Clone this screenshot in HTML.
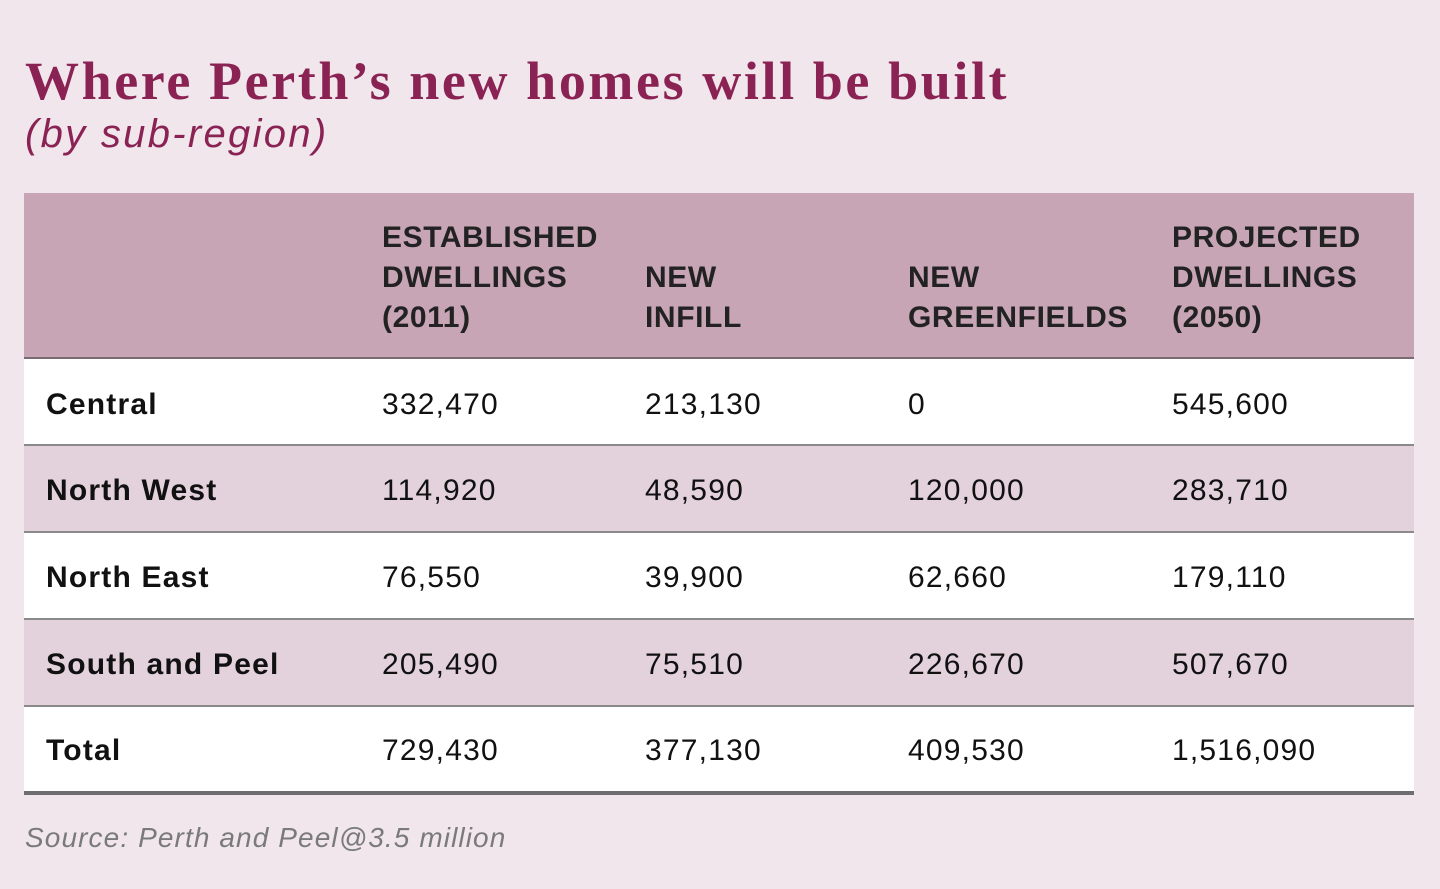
<!DOCTYPE html>
<html><head><meta charset="utf-8"><style>
body{margin:0;width:1440px;height:889px;background:#f0e6ec;position:relative;overflow:hidden;font-family:"Liberation Sans",sans-serif}
.t{position:absolute;white-space:nowrap}
#title{left:25px;top:50px;font-family:"Liberation Serif",serif;font-weight:bold;font-size:54px;color:#8a2354;letter-spacing:2.6px}
#sub{left:25px;top:112px;font-family:"Liberation Sans",sans-serif;font-style:italic;font-size:40px;color:#8a2354;letter-spacing:2.3px}
.row{position:absolute;left:24px;width:1390px}
.h{font-size:30px;font-weight:bold;color:#222;line-height:40px;letter-spacing:0.6px}
.c{font-size:30px;color:#111;letter-spacing:1.2px}
.l{font-weight:bold;font-size:30px;color:#111;letter-spacing:1.2px}
#src{left:25px;top:822px;font-style:italic;font-size:28px;color:#7a7a7a;letter-spacing:1.1px}
</style></head><body>
<div class="t" id="title">Where Perth’s new homes will be built</div>
<div class="t" id="sub">(by sub-region)</div>
<div class="row" style="top:193px;height:166px;background:#c8a5b4;border-bottom:2px solid #7a6a72;box-sizing:border-box"></div>
<div class="t h" style="left:382px;top:218px">ESTABLISHED<br>DWELLINGS<br>(2011)</div>
<div class="t h" style="left:645px;top:258px">NEW<br>INFILL</div>
<div class="t h" style="left:908px;top:258px">NEW<br>GREENFIELDS</div>
<div class="t h" style="left:1172px;top:218px">PROJECTED<br>DWELLINGS<br>(2050)</div>

<div class="row" style="top:359px;height:87px;background:#fff;border-bottom:2px solid #8a8a8a;box-sizing:border-box"></div>
<div class="row" style="top:446px;height:87px;background:#e3d2db;border-bottom:2px solid #8a8a8a;box-sizing:border-box"></div>
<div class="row" style="top:533px;height:87px;background:#fff;border-bottom:2px solid #8a8a8a;box-sizing:border-box"></div>
<div class="row" style="top:620px;height:87px;background:#e3d2db;border-bottom:2px solid #8a8a8a;box-sizing:border-box"></div>
<div class="row" style="top:707px;height:88px;background:#fff;border-bottom:4px solid #6e6e6e;box-sizing:border-box"></div>

<div class="t l" style="left:46px;top:388px">Central</div>
<div class="t c" style="left:382px;top:388px">332,470</div><div class="t c" style="left:645px;top:388px">213,130</div><div class="t c" style="left:908px;top:388px">0</div><div class="t c" style="left:1172px;top:388px">545,600</div>
<div class="t l" style="left:46px;top:474px">North West</div>
<div class="t c" style="left:382px;top:474px">114,920</div><div class="t c" style="left:645px;top:474px">48,590</div><div class="t c" style="left:908px;top:474px">120,000</div><div class="t c" style="left:1172px;top:474px">283,710</div>
<div class="t l" style="left:46px;top:561px">North East</div>
<div class="t c" style="left:382px;top:561px">76,550</div><div class="t c" style="left:645px;top:561px">39,900</div><div class="t c" style="left:908px;top:561px">62,660</div><div class="t c" style="left:1172px;top:561px">179,110</div>
<div class="t l" style="left:46px;top:648px">South and Peel</div>
<div class="t c" style="left:382px;top:648px">205,490</div><div class="t c" style="left:645px;top:648px">75,510</div><div class="t c" style="left:908px;top:648px">226,670</div><div class="t c" style="left:1172px;top:648px">507,670</div>
<div class="t l" style="left:46px;top:734px">Total</div>
<div class="t c" style="left:382px;top:734px">729,430</div><div class="t c" style="left:645px;top:734px">377,130</div><div class="t c" style="left:908px;top:734px">409,530</div><div class="t c" style="left:1172px;top:734px">1,516,090</div>
<div class="t" id="src">Source: Perth and Peel@3.5 million</div>
</body></html>
